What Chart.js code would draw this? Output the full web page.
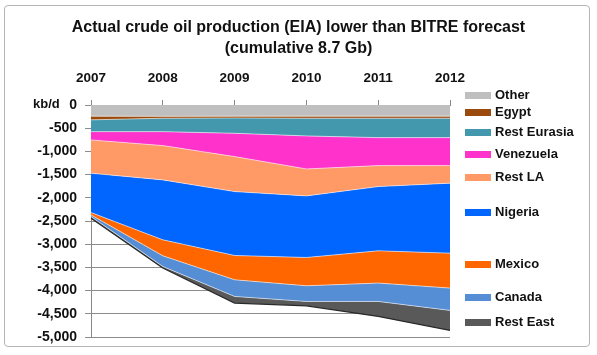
<!DOCTYPE html>
<html>
<head>
<meta charset="utf-8">
<script src="https://cdn.jsdelivr.net/npm/chart.js@4/dist/chart.umd.min.js"></script>
<style>
  html, body { margin: 0; padding: 0; background: #ffffff; }
  #wrap { position: relative; width: 597px; height: 355px; overflow: hidden; font-family: "Liberation Sans", Arial, sans-serif; }
  #frame { position: absolute; left: 4px; top: 5px; width: 586px; height: 342px; border: 1px solid #b5b5b5; border-radius: 4px; box-sizing: border-box; }
  canvas { position: absolute; left: 0; top: 0; }
  .title { position: absolute; left: 0; width: 597px; text-align: center; font-weight: bold; font-size: 16px; color: #111; white-space: nowrap; }
  .unit { position: absolute; left: 33px; top: 96px; font-weight: bold; font-size: 13px; color: #111; }
  .lg { position: absolute; left: 465px; height: 16px; font-weight: bold; font-size: 13px; color: #111; white-space: nowrap; }
  .lg span.sw { position: absolute; left: 0; top: 5px; width: 26px; height: 7px; }
  .lg span.tx { position: absolute; left: 30px; top: 0; line-height: 16px; }
</style>
</head>
<body>
<div id="wrap">
  <div id="frame"></div>
  <canvas id="c" width="597" height="355"></canvas>
  <div class="title" style="top:18px;">Actual crude oil production (EIA) lower than BITRE forecast</div>
  <div class="title" style="top:39px;">(cumulative 8.7 Gb)</div>
  <div class="unit">kb/d</div>
  <div id="legend"></div>
</div>
<script>
// Categories (years)
const years = ["2007", "2008", "2009", "2010", "2011", "2012"];

// Series (kb/d shortfall, stacked downward from 0)
const other       = [-240, -245, -240, -240, -240, -240];
const egypt       = [-80, -40, -40, -45, -45, -45];
const restEurasia = [-254, -289, -330, -382, -418, -418];
const venezuela   = [-179, -301, -502, -711, -603, -603];
const restLA      = [-717, -739, -754, -581, -452, -379];
const nigeria     = [-848, -1292, -1377, -1327, -1385, -1508];
const mexico      = [-50, -344, -524, -610, -695, -753];
const canada      = [-36, -230, -359, -338, -396, -481];
const restEast    = [-35, -35, -142, -95, -323, -431];

// Y-axis ticks
const yTicks = [0, -500, -1000, -1500, -2000, -2500, -3000, -3500, -4000, -4500, -5000];

const seriesNames = ["Other", "Egypt", "Rest Eurasia", "Venezuela", "Rest LA", "Nigeria", "Mexico", "Canada", "Rest East"];
const seriesData = [other, egypt, restEurasia, venezuela, restLA, nigeria, mexico, canada, restEast];
const seriesColors = ["#bfbfbf", "#9a4a0c", "#4398ad", "#ff33cc", "#ff9966", "#0066ff", "#ff6600", "#558ed5", "#595959"];
const legendY = [95, 112, 132, 154, 177, 212, 264, 297, 322];

const datasets = seriesNames.map((name, i) => ({
  label: name,
  data: seriesData[i],
  backgroundColor: seriesColors[i],
  borderColor: i === seriesNames.length - 1 ? "#2a2a2a" : "rgba(255,255,255,0.55)",
  borderWidth: i === seriesNames.length - 1 ? 1.2 : 1,
  pointRadius: 0,
  tension: 0,
  fill: i === 0 ? "origin" : "-1"
}));

// legend (HTML)
const lg = document.getElementById("legend");
seriesNames.forEach((name, i) => {
  const d = document.createElement("div");
  d.className = "lg";
  d.style.top = (legendY[i] - 8) + "px";
  d.innerHTML = '<span class="sw" style="background:' + seriesColors[i] + '"></span><span class="tx">' + name + '</span>';
  lg.appendChild(d);
});

new Chart(document.getElementById("c"), {
  type: "line",
  data: { labels: years, datasets: datasets },
  options: {
    responsive: false,
    animation: false,
    layout: { padding: { left: 0, right: 147, top: 60, bottom: 18 } },
    plugins: { legend: { display: false }, tooltip: { enabled: false }, title: { display: false } },
    scales: {
      x: {
        position: "top",
        offset: false,
        grid: { display: true, drawOnChartArea: false, drawTicks: true, tickLength: 5, color: "#888" },
        border: { display: true, color: "#888" },
        ticks: { color: "#111", font: { family: "Liberation Sans", weight: "bold", size: 13.5 }, padding: 14, maxRotation: 0 },
        afterFit: (s) => { s.height = 45; }
      },
      y: {
        stacked: true,
        min: -5000,
        max: 0,
        afterBuildTicks: (s) => { s.ticks = yTicks.map(v => ({ value: v })); },
        grid: { color: "#8c8c8c", drawTicks: true, tickLength: 6, lineWidth: 1 },
        border: { display: true, color: "#888" },
        ticks: {
          color: "#111",
          font: { family: "Liberation Sans", weight: "bold", size: 14 },
          padding: 8,
          callback: (v) => Number(v).toLocaleString("en-US")
        },
        afterFit: (s) => { s.width = 91; }
      }
    }
  }
});
</script>
</body>
</html>
